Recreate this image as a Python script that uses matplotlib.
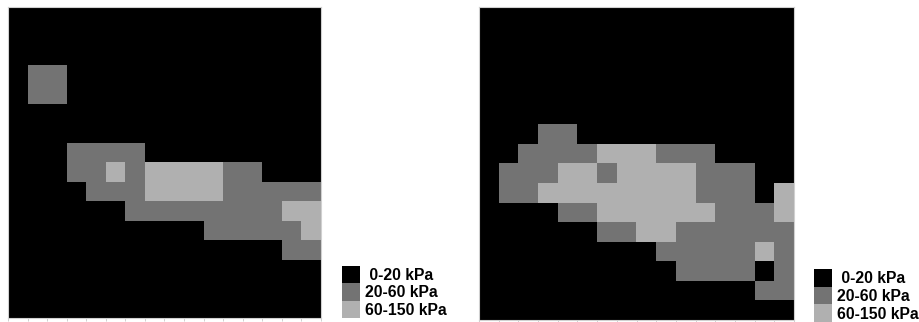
import numpy as np
from matplotlib import pyplot as plt
from matplotlib.colors import ListedColormap

# pressure classes: 0 = 0-20 kPa, 1 = 20-60 kPa, 2 = 60-150 kPa
class_labels = [' 0-20 kPa', '20-60 kPa', '60-150 kPa']
class_colors = ['#000000', '#737373', '#b0b0b0']

# 16 x 16 sensor grids, row 0 at the top
left_map = [
    [0] * 16,
    [0] * 16,
    [0] * 16,
    [0, 1, 1, 0, 0, 0, 0, 0, 0, 0, 0, 0, 0, 0, 0, 0],
    [0, 1, 1, 0, 0, 0, 0, 0, 0, 0, 0, 0, 0, 0, 0, 0],
    [0] * 16,
    [0] * 16,
    [0, 0, 0, 1, 1, 1, 1, 0, 0, 0, 0, 0, 0, 0, 0, 0],
    [0, 0, 0, 1, 1, 2, 1, 2, 2, 2, 2, 1, 1, 0, 0, 0],
    [0, 0, 0, 0, 1, 1, 1, 2, 2, 2, 2, 1, 1, 1, 1, 1],
    [0, 0, 0, 0, 0, 0, 1, 1, 1, 1, 1, 1, 1, 1, 2, 2],
    [0, 0, 0, 0, 0, 0, 0, 0, 0, 0, 1, 1, 1, 1, 1, 2],
    [0, 0, 0, 0, 0, 0, 0, 0, 0, 0, 0, 0, 0, 0, 1, 1],
    [0] * 16,
    [0] * 16,
    [0] * 16,
]

right_map = [
    [0] * 16,
    [0] * 16,
    [0] * 16,
    [0] * 16,
    [0] * 16,
    [0] * 16,
    [0, 0, 0, 1, 1, 0, 0, 0, 0, 0, 0, 0, 0, 0, 0, 0],
    [0, 0, 1, 1, 1, 1, 2, 2, 2, 1, 1, 1, 0, 0, 0, 0],
    [0, 1, 1, 1, 2, 2, 1, 2, 2, 2, 2, 1, 1, 1, 0, 0],
    [0, 1, 1, 2, 2, 2, 2, 2, 2, 2, 2, 1, 1, 1, 0, 2],
    [0, 0, 0, 0, 1, 1, 2, 2, 2, 2, 2, 2, 1, 1, 1, 2],
    [0, 0, 0, 0, 0, 0, 1, 1, 2, 2, 1, 1, 1, 1, 1, 1],
    [0, 0, 0, 0, 0, 0, 0, 0, 0, 1, 1, 1, 1, 1, 2, 1],
    [0, 0, 0, 0, 0, 0, 0, 0, 0, 0, 1, 1, 1, 1, 0, 1],
    [0, 0, 0, 0, 0, 0, 0, 0, 0, 0, 0, 0, 0, 0, 1, 1],
    [0] * 16,
]

cmap = ListedColormap(class_colors)
plt.rcParams['font.family'] = ['Liberation Sans', 'DejaVu Sans']

fig = plt.figure(figsize=(9.2, 3.22), dpi=100)


def draw_map(rect, grid):
    ax = fig.add_axes(rect)
    grid = np.array(grid)
    ax.imshow(grid, cmap=cmap, vmin=-0.5, vmax=2.5, interpolation='nearest',
              aspect='auto', extent=(0, grid.shape[1], grid.shape[0], 0))
    ax.set_xticks(np.arange(grid.shape[1] + 1))
    ax.set_xticklabels([])
    ax.set_yticks([])
    ax.tick_params(axis='x', length=2, width=0.6, color='#c8c8c8')
    for spine in ax.spines.values():
        spine.set_color('#d0d0d0')
        spine.set_linewidth(0.8)
    return ax


def draw_legend(rect, fontsize):
    ax = fig.add_axes(rect)
    n = len(class_labels)
    ax.imshow(np.arange(n).reshape(n, 1), cmap=cmap, vmin=-0.5, vmax=2.5,
              aspect='auto', extent=(0, 1, n, 0))
    ax.set_xlim(0, 1)
    ax.set_ylim(n, 0)
    ax.axis('off')
    for i, label in enumerate(class_labels):
        ax.text(1.3, i + 0.55, label, fontsize=fontsize, fontweight='bold',
                ha='left', va='center', clip_on=False)


draw_map([8 / 920, 4 / 322, 313 / 920, 311 / 322], left_map)
draw_map([479 / 920, 2 / 322, 315 / 920, 313 / 322], right_map)

draw_legend([342 / 920, 4 / 322, 18 / 920, 52 / 322], 11.3)
draw_legend([814 / 920, 0 / 322, 18 / 920, 53 / 322], 11.3)

fig.savefig('out.png', dpi=100)
